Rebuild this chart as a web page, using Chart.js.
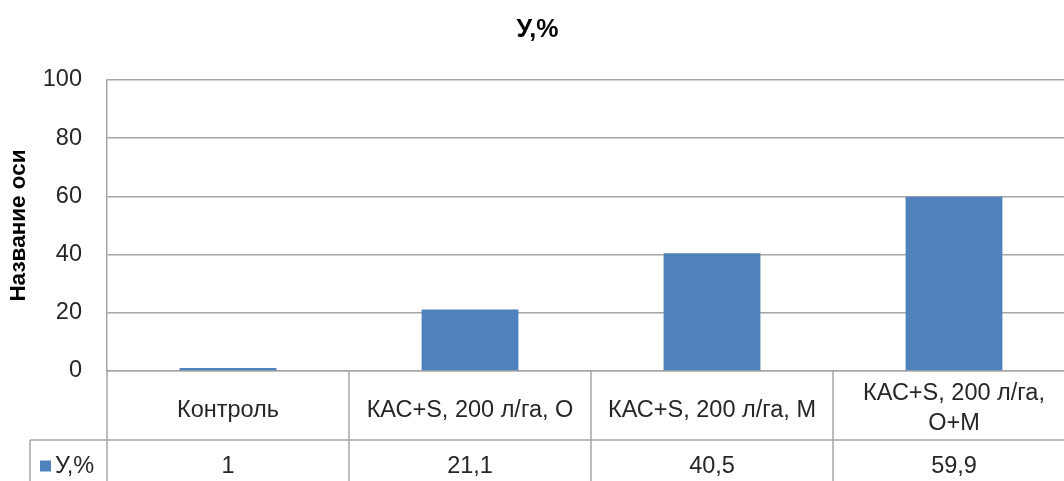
<!DOCTYPE html>
<html>
<head>
<meta charset="utf-8">
<script src="https://cdn.jsdelivr.net/npm/chart.js@4/dist/chart.umd.min.js"></script>
<style>
  html, body { margin: 0; padding: 0; background: #fff; overflow: hidden; }
  #wrap { width: 1076px; height: 481px; position: relative; }
</style>
</head>
<body>
<div id="wrap"><canvas id="c" width="1076" height="481"></canvas></div>
<script>
// Categories (multi-line entries are arrays of lines)
const categories = ['Контроль', 'КАС+S, 200 л/га, О', 'КАС+S, 200 л/га, М', ['КАС+S, 200 л/га,', 'О+М']];
const seriesName = 'У,%';
const values = [1, 21.1, 40.5, 59.9];
const valueLabels = ['1', '21,1', '40,5', '59,9'];
const yTicks = [0, 20, 40, 60, 80, 100];

const FONT = '"Liberation Sans", Arial, sans-serif';
const TEXT = '#262626';
const LINE = '#a6a6a6';
const BAR = '#4f81bd';

// Data table drawn under the plot area, aligned to the category scale
const dataTable = {
  id: 'dataTable',
  afterDraw(chart) {
    const ctx = chart.ctx;
    const area = chart.chartArea;
    const x = chart.scales.x;
    const bottom = chart.height;
    const rowSplit = area.bottom + 69;
    const legendLeft = 30;
    const step = x.getPixelForValue(1) - x.getPixelForValue(0);

    ctx.save();
    ctx.strokeStyle = LINE;
    ctx.lineWidth = 1.5;
    ctx.beginPath();
    // left edge of the table (continuation of the value axis)
    ctx.moveTo(area.left, area.bottom);
    ctx.lineTo(area.left, bottom);
    // category separators
    for (let i = 1; i < categories.length; i++) {
      const px = x.getPixelForValue(i) - step / 2;
      ctx.moveTo(px, area.bottom);
      ctx.lineTo(px, bottom);
    }
    ctx.moveTo(area.right, area.bottom);
    ctx.lineTo(area.right, bottom);
    // row separator and legend cell
    ctx.moveTo(legendLeft, rowSplit);
    ctx.lineTo(area.right, rowSplit);
    ctx.moveTo(legendLeft, rowSplit);
    ctx.lineTo(legendLeft, bottom);
    ctx.stroke();

    ctx.fillStyle = TEXT;
    ctx.font = '23.5px ' + FONT;
    ctx.textAlign = 'center';
    ctx.textBaseline = 'middle';
    const row1Mid = (area.bottom + rowSplit) / 2 + 5;
    const row2Mid = (rowSplit + bottom) / 2 + 6;
    categories.forEach((cat, i) => {
      const px = x.getPixelForValue(i);
      const lines = Array.isArray(cat) ? cat : [cat];
      const lh = 30;
      const start = row1Mid - 2 - (lines.length - 1) * lh / 2;
      lines.forEach((ln, j) => ctx.fillText(ln, px, (lines.length > 1 ? start : row1Mid) + j * lh));
      ctx.fillText(valueLabels[i], px, row2Mid);
    });

    // legend key + series name
    ctx.fillStyle = BAR;
    ctx.fillRect(40, row2Mid - 6, 11, 11);
    ctx.fillStyle = TEXT;
    ctx.textAlign = 'left';
    ctx.fillText(seriesName, 55, row2Mid);
    ctx.restore();
  }
};

new Chart(document.getElementById('c'), {
  type: 'bar',
  data: {
    labels: categories,
    datasets: [{
      label: seriesName,
      data: values,
      backgroundColor: BAR,
      borderWidth: 0,
      categoryPercentage: 1,
      barPercentage: 0.4
    }]
  },
  options: {
    responsive: false,
    animation: false,
    events: [],
    layout: { padding: { left: 0, right: 1, top: 0, bottom: 0 } },
    plugins: {
      legend: { display: false },
      tooltip: { enabled: false },
      title: {
        display: true,
        text: seriesName,
        color: '#000',
        font: { family: FONT, size: 25, weight: 'bold' },
        padding: { top: 15, bottom: 35 }
      }
    },
    scales: {
      x: {
        ticks: { display: false },
        grid: { display: false, drawTicks: false },
        border: { display: true, color: LINE, width: 1.5 },
        afterFit(scale) { scale.height = 110; }
      },
      y: {
        min: 0,
        max: 100,
        afterBuildTicks(scale) { scale.ticks = yTicks.map(v => ({ value: v })); },
        ticks: {
          color: TEXT,
          padding: 25,
          font: { family: FONT, size: 23.5 }
        },
        grid: { color: LINE, lineWidth: 1.5, drawTicks: false },
        border: { display: true, color: LINE, width: 1.5 },
        title: {
          display: true,
          text: 'Название оси',
          color: '#000',
          font: { family: FONT, size: 22.5, weight: 'bold' },
          padding: { top: 5, bottom: 0 }
        },
        afterFit(scale) { scale.width = 107; }
      }
    }
  },
  plugins: [dataTable]
});
</script>
</body>
</html>
